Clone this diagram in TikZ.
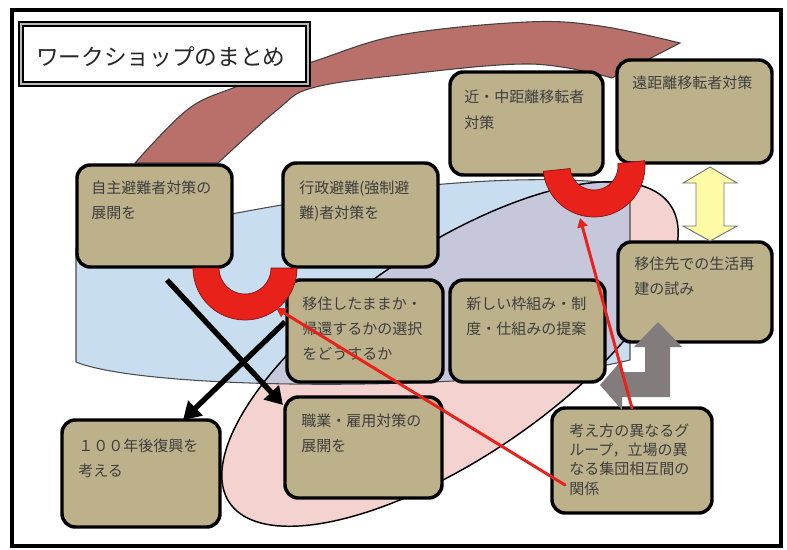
\documentclass[tikz,border=0pt]{standalone}
\usepackage{fontspec}
\newfontfamily\cjk{Noto Sans CJK JP}
\usetikzlibrary{arrows.meta,fit}
\definecolor{boxfill}{RGB}{188,177,138}
\definecolor{bandc}{RGB}{185,112,106}
\definecolor{cylblue}{RGB}{200,222,240}
\definecolor{ellpink}{RGB}{244,210,207}
\definecolor{lav}{RGB}{198,199,218}
\definecolor{ured}{RGB}{232,33,26}
\definecolor{ylw}{RGB}{255,250,165}
\definecolor{garrow}{RGB}{130,124,124}
\definecolor{txtc}{RGB}{62,62,62}
\begin{document}
\begin{tikzpicture}[x=0.75pt,y=-0.75pt,
  box/.style={draw=black, line width=2.6pt, fill=boxfill, rounded corners=10pt, inner sep=0pt},
  txt/.style={font=\cjk\fontsize{11.25pt}{19.1pt}\selectfont, text=txtc, inner sep=0pt, text width=150pt, align=left, anchor=base west},
  txtb/.style={txt, font=\cjk\fontsize{11.25pt}{14.5pt}\selectfont},
  blk/.style={line width=4pt, -{Triangle[length=13pt,width=15pt]}},
  rarr/.style={draw=ured, line width=2.2pt, line cap=round, -{Triangle[length=7pt,width=7.5pt]}},
  uarc/.style={fill=ured, draw=ured!55!black, line width=0.5pt},
  cylpath/.style={insert path={(76,248) -- (76,362) .. controls (150,392) and (500,392) .. (630,360) -- (630,185) .. controls (480,165) and (250,205) .. (76,248) -- cycle}},
  ellpath/.style={insert path={plot[domain=0:360,samples=181] ({450+220.5*cos(\x)+58.7*sin(\x)},{354-148.7*cos(\x)+87*sin(\x)}) -- cycle}}
]
\useasboundingbox (0,0) rectangle (787,549);
\fill[white] (0,0) rectangle (787,549);
\draw[line width=3pt] (12,10) rectangle (781,546);

% curved band
\filldraw[fill=bandc, draw=black!75, line width=0.8pt]
  plot[smooth, tension=0.6] coordinates {(135,163) (187,110) (233,88) (312,62) (400,35) (527,22) (600,26) (680,43)}
  -- plot[smooth, tension=0.6] coordinates {(612,78) (530,64) (400,75) (312,88) (277,110) (218,163)} -- cycle;

% title
\node[fit={(21,24) (308,84)}, inner sep=0pt, draw=black, fill=white, line width=1.8pt, double=gray!55, double distance=1.4pt] (title) {};
\node[font=\cjk\fontsize{17pt}{20pt}\selectfont, text=black!85, anchor=base west, inner sep=0pt] (titlet) at (36,66) {ワークショップのまとめ};

% background cylinder and ellipse
\fill[cylblue, cylpath];
\fill[ellpink, ellpath];
\begin{scope}
  \clip[cylpath];
  \fill[lav, ellpath];
\end{scope}
\draw[black!70, line width=0.8pt, cylpath];
\draw[black, line width=1.1pt, ellpath];

% boxes
\node[box, fit={(77,165) (232,267)}] (b1) {};
\node[box, fit={(283,163) (438,267)}] (b2) {};
\node[box, fit={(450,72) (603,175)}] (b3) {};
\node[box, fit={(617,60) (772,163)}] (b4) {};
\node[box, fit={(618,242) (772,342)}] (b5) {};
\node[box, fit={(287,280) (443,382)}] (b6) {};
\node[box, fit={(450,280) (605,382)}] (b7) {};
\node[box, fit={(285,397) (442,498)}] (b8) {};
\node[box, fit={(62,420) (220,527)}] (b9) {};
\node[box, fit={(552,408) (712,513)}] (b10) {};

\node[txt] (b1t) at (91,193) {自主避難者対策の\\展開を};
\node[txt] (b2t) at (299,193) {行政避難(強制避\\難)者対策を};
\node[txt] (b3t) at (464,103) {近・中距離移転者\\対策};
\node[txt] (b4t) at (632,89) {遠距離移転者対策};
\node[txt] (b5t) at (634,269) {移住先での生活再\\建の試み};
\node[txt] (b6t) at (302,309) {移住したままか・\\帰還するかの選択\\をどうするか};
\node[txt] (b7t) at (466,309) {新しい枠組み・制\\度・仕組みの提案};
\node[txt] (b8t) at (301,426) {職業・雇用対策の\\展開を};
\node[txt] (b9t) at (78,451) {１００年後復興を\\考える};
\node[txtb] (b10t) at (569,436) {考え方の異なるグ\\ループ，立場の異\\なる集団相互間の\\関係};

% red U shapes
\path[uarc] plot[domain=0:180,samples=60] ({245+52*cos(\x)},{268+52*sin(\x)})
  -- plot[domain=180:0,samples=40] ({245+26*cos(\x)},{268+26*sin(\x)}) -- cycle;
\path[uarc] plot[domain=-6:174,samples=60] ({594+51*cos(\x)},{166+51*sin(\x)})
  -- plot[domain=174:-6,samples=40] ({594+24*cos(\x)},{166+24*sin(\x)}) -- cycle;

% yellow double arrow
\filldraw[fill=ylw, draw=black!55, line width=0.7pt]
  (710,167) -- (737,183) -- (724,183) -- (724,226) -- (737,226) -- (710,241)
  -- (683,226) -- (696,226) -- (696,183) -- (683,183) -- cycle;

% gray bent arrow
\fill[garrow] (658,322) -- (682,347) -- (670,347) -- (670,397) -- (622,397) -- (622,410)
  -- (600,385) -- (622,360) -- (622,372) -- (645,372) -- (645,347) -- (634,347) -- cycle;

% black arrows
\coordinate (k1s) at (167,280);
\coordinate (k1e) at (283,405);
\coordinate (k2s) at (285,322);
\coordinate (k2e) at (183,420);
\draw[blk] (k1s) -- (k1e);
\draw[blk] (k2s) -- (k2e);

% red arrows
\coordinate (r1s) at (565,485);
\coordinate (r1e) at (276,308);
\coordinate (r2s) at (632,408);
\coordinate (r2e) at (580,218);
\draw[rarr] (r1s) -- (r1e);
\draw[rarr] (r2s) -- (r2e);
\end{tikzpicture}
\end{document}
